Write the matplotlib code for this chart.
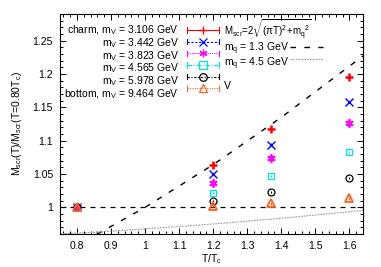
import numpy as np
import matplotlib
matplotlib.use('Agg')
import matplotlib.pyplot as plt
from matplotlib.lines import Line2D

plt.rcParams['font.family'] = ['Liberation Sans', 'DejaVu Sans']
plt.rcParams['mathtext.fontset'] = 'custom'
plt.rcParams['mathtext.rm'] = 'Liberation Sans'
plt.rcParams['mathtext.it'] = 'Liberation Sans'
plt.rcParams['font.size'] = 7.5

# temperatures T/Tc
t_vals = [0.8, 1.2, 1.37, 1.6]

# M_scr(T)/M_scr(0.8Tc) for each vector meson mass
series_labels = ['charm, m$_\\mathrm{V}$ = 3.106 GeV', 'm$_\\mathrm{V}$ = 3.442 GeV',
                 'm$_\\mathrm{V}$ = 3.823 GeV', 'm$_\\mathrm{V}$ = 4.565 GeV',
                 'm$_\\mathrm{V}$ = 5.978 GeV', 'bottom, m$_\\mathrm{V}$ = 9.464 GeV']
m_3106 = [1.0, 1.063, 1.118, 1.195]
m_3442 = [1.0, 1.050, 1.094, 1.158]
m_3823 = [1.0, 1.037, 1.074, 1.126]
m_4565 = [1.0, 1.022, 1.047, 1.083]
m_5978 = [1.0, 1.0095, 1.023, 1.044]
m_9464 = [1.0, 1.002, 1.006, 1.0135]
err_small = [0.002, 0.002, 0.002, 0.002]

# free quark curves
line_t = [0.75, 0.86, 1.0, 1.2, 1.4, 1.64]
mq13_line = [0.930, 0.960, 1.000, 1.064, 1.135, 1.227]
mq45_line = [0.9604, 0.9628, 0.9677, 0.9750, 0.9835, 0.9954]

colors = ['#ff0000', '#0000ff', '#ff00ff', '#00e0e0', '#000000', '#ff6020']
markers = ['+', 'x', (6, 2, 0), 's', 'o', '^']
sample_ls = ['-', (0, (2, 1.5)), (0, (1, 1)), (0, (4, 1.5, 1, 1.5)), (0, (2, 1.5, 1, 1.5)), (0, (1, 1.2))]
all_series = [m_3106, m_3442, m_3823, m_4565, m_5978, m_9464]

fig = plt.figure(figsize=(3.81, 2.67), dpi=100)
ax = fig.add_axes([60/381, 1-234/267, 303/381, 220/267])

ax.axhline(1.0, color='black', lw=0.9, ls=(0, (4, 4)))
ax.plot(line_t, mq13_line, color='black', lw=1.0, ls=(0, (4, 6)))
ax.plot(line_t, mq45_line, color='#999999', lw=0.8, ls=(0, (1.5, 1)))

for ys, c, m in zip(all_series, colors, markers):
    if m == '+':
        mew, ms = 1.8, 6
    elif m == 'x':
        mew, ms = 1.0, 6
    elif m == 's' or m == 'o':
        mew, ms = 0.9, 5
    else:
        mew, ms = 1.3, 6
    ax.errorbar(t_vals, ys, yerr=err_small, fmt='none', ecolor=c, elinewidth=0.8, capsize=0)
    ax.plot(t_vals, ys, ls='none', marker=m, color=c, ms=ms, mew=mew, mfc='none')

ax.set_xlim(0.75, 1.64)
ax.set_ylim(0.96, 1.29)
ax.set_xticks([0.8, 0.9, 1.0, 1.1, 1.2, 1.3, 1.4, 1.5, 1.6])
ax.set_xticklabels(['0.8', '0.9', '1', '1.1', '1.2', '1.3', '1.4', '1.5', '1.6'])
ax.set_yticks([1.0, 1.05, 1.1, 1.15, 1.2, 1.25])
ax.set_yticklabels(['1', '1.05', '1.1', '1.15', '1.2', '1.25'])
ax.set_xticks(np.arange(0.76, 1.64, 0.02), minor=True)
ax.set_yticks(np.arange(0.96, 1.29, 0.01), minor=True)
ax.tick_params(which='both', direction='in', top=True, right=True, width=0.7)
ax.tick_params(which='major', length=4, pad=5)
ax.tick_params(which='minor', length=2)
for s in ax.spines.values():
    s.set_linewidth(0.8)

ax.set_xlabel('T/T$_\\mathrm{c}$', labelpad=1)
ax.set_ylabel('M$_\\mathrm{scr}$(T)/M$_\\mathrm{scr}$(T=0.80T$_\\mathrm{c}$)', labelpad=6)


def px(x, y):
    return ((x - 60) / 303, (234 - y) / 220)


# key, left block: one multi-line text so rows sit tight like gnuplot's
rows = [30, 41.7, 53.3, 65, 76.7, 88.3]
kx, ky = px(179, rows[0] - 6.5)
ax.text(kx, ky, '\n'.join(series_labels), transform=ax.transAxes, ha='right', va='top',
        multialignment='right', linespacing=0.9)
for c, m, ls, yr in zip(colors, markers, sample_ls, rows):
    _, y0 = px(0, yr)
    xa, _ = px(187, yr)
    xb, _ = px(219, yr)
    xm, _ = px(203, yr)
    ax.add_line(Line2D([xa, xb], [y0, y0], transform=ax.transAxes, color=c, lw=0.8, ls=ls))
    for xe in [xa, xb]:
        ax.add_line(Line2D([xe, xe], [y0 - 0.012, y0 + 0.012], transform=ax.transAxes, color=c, lw=0.8))
    mew = 1.0 if m == '+' else 0.9
    ax.add_line(Line2D([xm], [y0], transform=ax.transAxes, ls='none', marker=m, color=c,
                       ms=5.5, mew=mew, mfc='none'))

# right column of the key
x1, _ = px(224, 0)
ax.text(x1, px(0, 29.5)[1], 'M$_\\mathrm{scr}$=2$\\sqrt{(\\pi \\mathrm{T})^2\\!+\\!\\mathrm{m_q}^2}$',
        transform=ax.transAxes, ha='left', va='center', fontsize=7)
ax.text(x1, px(0, 40.5)[1], 'm$_\\mathrm{q}$ = 1.3 GeV\nm$_\\mathrm{q}$ = 4.5 GeV\n\nV',
        transform=ax.transAxes, ha='left', va='top', linespacing=0.9)
xs0, _ = px(290, 0)
xs1, _ = px(323, 0)
ax.add_line(Line2D([xs0, xs1], [px(0, 46.5)[1]] * 2, transform=ax.transAxes,
                   color='black', lw=1.0, ls=(0, (4, 6))))
ax.add_line(Line2D([xs0, xs1], [px(0, 58.5)[1]] * 2, transform=ax.transAxes,
                   color='#999999', lw=0.8, ls=(0, (1.5, 1))))

fig.savefig('out.png', dpi=100)
